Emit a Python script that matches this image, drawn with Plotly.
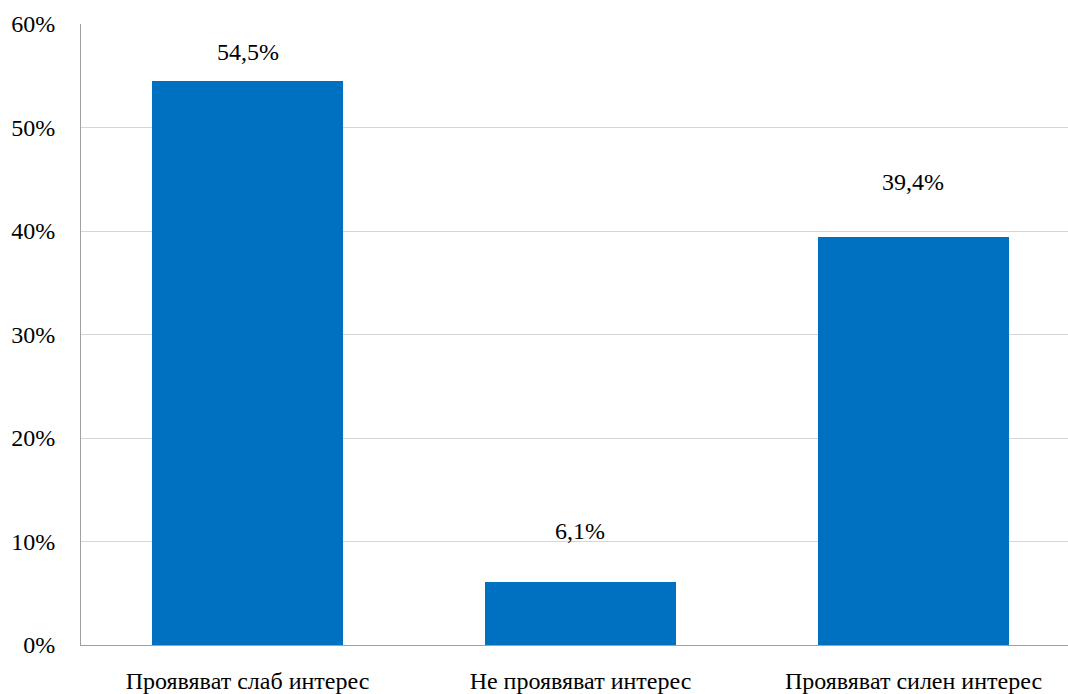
import plotly.graph_objects as go

categories = ["Проявяват слаб интерес", "Не проявяват интерес", "Проявяват силен интерес"]
values = [54.5, 6.1, 39.4]
labels = ["54,5%", "6,1%", "39,4%"]
label_shift = [29, 51, 55]
y_ticks = [0, 10, 20, 30, 40, 50, 60]
y_tick_text = ["0%", "10%", "20%", "30%", "40%", "50%", "60%"]

FONT = "Liberation Serif, Tinos, Times New Roman, serif"

fig = go.Figure()
fig.add_trace(go.Bar(
    x=categories, y=values,
    marker=dict(color="#0070C0", line=dict(width=0)),
    width=0.573,
    hoverinfo="skip",
))

for c, v, t, s in zip(categories, values, labels, label_shift):
    fig.add_annotation(x=c, y=v, text=t, showarrow=False, yshift=s,
                       font=dict(family=FONT, size=24, color="#000000"))

fig.update_layout(
    width=1068, height=694,
    margin=dict(l=81, r=0, t=24, b=45, pad=0),
    paper_bgcolor="white", plot_bgcolor="white",
    showlegend=False,
    font=dict(family=FONT, size=24, color="#000000"),
    bargap=0,
)
fig.update_xaxes(
    type="category", range=[-0.5, 2.464],
    showline=True, linecolor="#a0a0a0", linewidth=1,
    showgrid=False, ticks="", ticklabelstandoff=14,
    tickfont=dict(family=FONT, size=24, color="#000000"),
    fixedrange=True,
)
fig.update_yaxes(
    range=[0, 60], tickvals=y_ticks, ticktext=y_tick_text,
    showline=True, linecolor="#a0a0a0", linewidth=1,
    showgrid=True, gridcolor="#d6d6d6", gridwidth=1,
    zeroline=False, ticks="", ticklabelstandoff=20,
    tickfont=dict(family=FONT, size=24, color="#000000"),
    fixedrange=True,
)

fig.write_html("out.html")
